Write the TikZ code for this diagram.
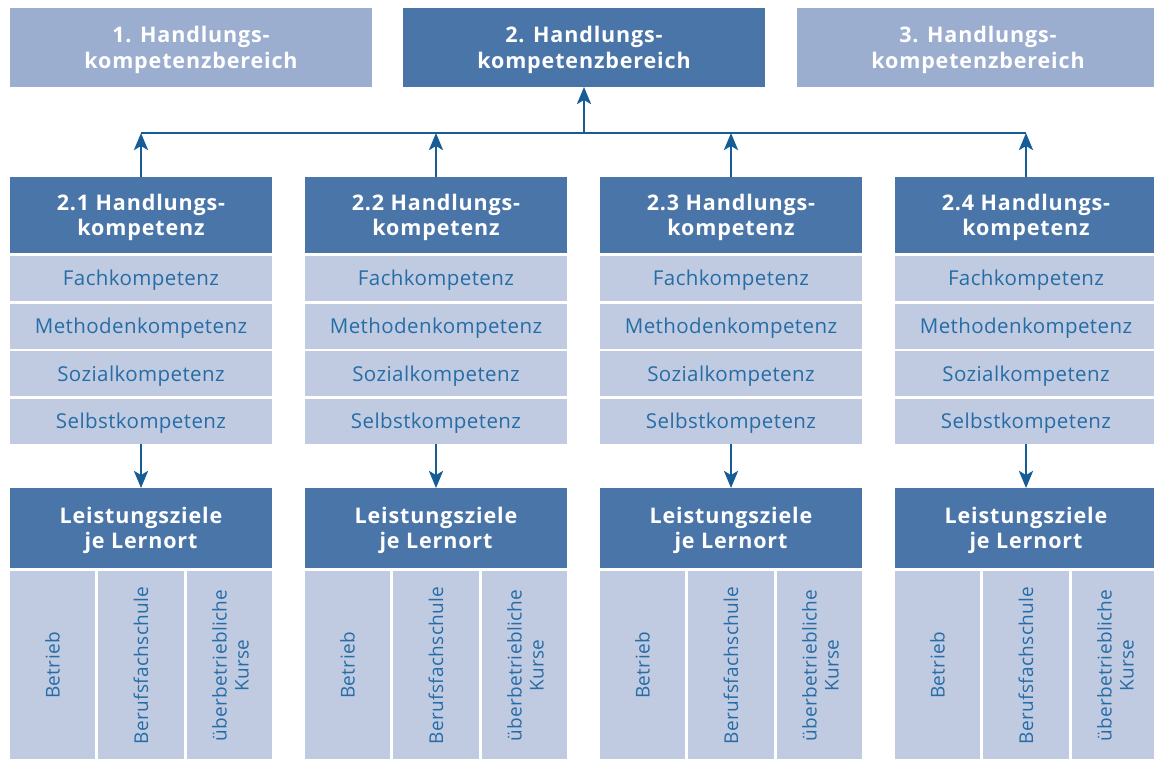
\documentclass[tikz,border=0pt]{standalone}
\usepackage{fontspec}
\setmainfont{Open Sans}
\newfontfamily\headfont[LetterSpace=4]{Open Sans}
\newfontfamily\rowfont[LetterSpace=2]{Open Sans}
\usetikzlibrary{arrows.meta}
\definecolor{darkbox}{RGB}{74,117,168}
\definecolor{lightbox}{RGB}{155,174,208}
\definecolor{rowbox}{RGB}{192,203,226}
\definecolor{rowtext}{RGB}{38,108,166}
\definecolor{arrowcol}{RGB}{22,92,150}
\tikzset{
  box/.style={rectangle, inner sep=0pt, outer sep=0pt, align=center},
  topbox/.style={box, minimum width=362pt, minimum height=79pt, text=white,
    text depth=-7pt,
    font=\headfont\bfseries\fontsize{21.5}{25.5}\selectfont},
  headbox/.style={box, fill=darkbox, minimum width=262pt, text=white,
    text depth=-7pt,
    font=\headfont\bfseries\fontsize{21.5}{25.5}\selectfont},
  lzbox/.style={headbox, text depth=-4pt},
  rowbox/.style={box, fill=rowbox, minimum width=262pt, minimum height=45pt,
    text depth=1pt,
    text=rowtext, font=\rowfont\fontsize{20.5}{24}\selectfont},
  subbox/.style={box, fill=rowbox, minimum height=189pt, text=rowtext,
    font=\rowfont\fontsize{19}{25}\selectfont},
  arr/.style={draw=arrowcol, line width=2.6pt,
    -{Stealth[length=17pt, width=14pt, inset=4pt]}},
  bus/.style={draw=arrowcol, line width=2.6pt},
}
\begin{document}
\begin{tikzpicture}[x=1pt, y=-1pt]
\useasboundingbox (0,0) rectangle (1154,758);
\fill[white] (0,0) rectangle (1154,758);
% top level
\node[topbox, fill=lightbox] (b1) at (191,47.5) {1. Handlungs-\\kompetenzbereich};
\node[topbox, fill=darkbox] (b2) at (584,47.5) {2. Handlungs-\\kompetenzbereich};
\node[topbox, fill=lightbox] (b3) at (978,47.5) {3. Handlungs-\\kompetenzbereich};
% bus
\coordinate (busL) at (141,133);
\coordinate (busR) at (1026,133);
\draw[bus] (busL) -- (busR);
\draw[arr] (b2.south |- busL) -- (b2.south);
\foreach \i/\lab in {0/2.1, 1/2.2, 2/2.3, 3/2.4} {
  \pgfmathsetmacro{\cx}{141+295*\i}
  \node[headbox, minimum height=76pt] (h\i) at (\cx,215) {\lab\ Handlungs-\\kompetenz};
  \node[rowbox] (fa\i) at (\cx,278.5) {Fachkompetenz};
  \node[rowbox] (me\i) at (\cx,326.2) {Methodenkompetenz};
  \node[rowbox] (so\i) at (\cx,373.8) {Sozialkompetenz};
  \node[rowbox] (se\i) at (\cx,421.5) {Selbstkompetenz};
  \node[lzbox, minimum height=80pt] (lz\i) at (\cx,528) {Leistungsziele\\je Lernort};
  \node[subbox, minimum width=85pt] (be\i) at (\cx-88.5,665.5) {\rotatebox{90}{Betrieb}};
  \node[subbox, minimum width=86pt] (bf\i) at (\cx,665.5) {\rotatebox{90}{Berufsfachschule}};
  \node[subbox, minimum width=85pt] (ue\i) at (\cx+88.5,665.5) {\hspace*{6pt}\rotatebox{90}{\begin{tabular}{@{}c@{}}überbetriebliche\\[-3pt]Kurse\end{tabular}}};
  \draw[arr] (h\i.north) -- (h\i.north |- busL);
  \draw[arr] (se\i.south) -- (lz\i.north);
}
\end{tikzpicture}
\end{document}
